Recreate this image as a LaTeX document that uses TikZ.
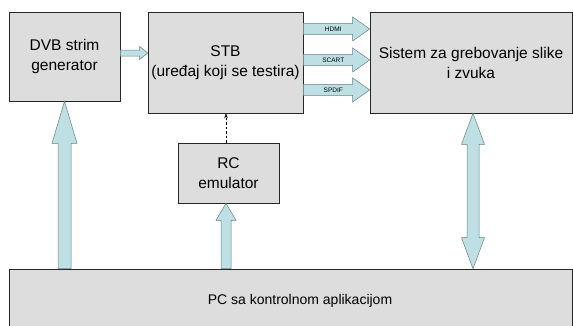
\documentclass[tikz,border=0pt]{standalone}
\usepackage{fontspec}
\setmainfont{Liberation Sans}
\usetikzlibrary{calc,arrows.meta}
\definecolor{sivo}{RGB}{221,221,221}
\definecolor{plavo}{RGB}{190,224,228}
\definecolor{ivica}{RGB}{100,128,132}
\tikzset{
  blok/.style={draw=black!85,line width=.6pt,fill=sivo,align=center,inner sep=0pt,
    font=\fontsize{15.5}{20}\selectfont},
  % debela strelica: pola tijela, pola glave, duzina glave
  strelica/.style n args={3}{draw=ivica,fill=plavo,line width=.5pt,
    to path={let \p1=(\tikztostart),\p2=(\tikztotarget),\p3=($(\p2)!#3!(\p1)$) in
      ($(\p1)!#1!90:(\p2)$) -- ($(\p3)!#1!90:(\p2)$) -- ($(\p3)!#2!90:(\p2)$) -- (\p2)
      -- ($(\p3)!#2!-90:(\p2)$) -- ($(\p3)!#1!-90:(\p2)$) -- ($(\p1)!#1!-90:(\p2)$) -- cycle}},
  dvostruka/.style n args={3}{draw=ivica,fill=plavo,line width=.5pt,
    to path={let \p1=(\tikztostart),\p2=(\tikztotarget),\p3=($(\p1)!#3!(\p2)$),\p4=($(\p2)!#3!(\p1)$) in
      (\p1) -- ($(\p3)!#2!90:(\p2)$) -- ($(\p3)!#1!90:(\p2)$) -- ($(\p4)!#1!-90:(\p1)$)
      -- ($(\p4)!#2!-90:(\p1)$) -- (\p2) -- ($(\p4)!#2!90:(\p1)$) -- ($(\p4)!#1!90:(\p1)$)
      -- ($(\p3)!#1!-90:(\p2)$) -- ($(\p3)!#2!-90:(\p2)$) -- cycle}},
  oznaka/.style={font=\fontsize{6.5}{7}\selectfont,inner sep=0pt}
}
\begin{document}
\begin{tikzpicture}[x=1pt,y=-1pt,>={Stealth[length=5pt,width=3.5pt]}]
    \path[use as bounding box,fill=white] (0,0) rectangle (573,325);
    % Blokovi
    \node[blok,minimum width=111pt,minimum height=89pt] (dvb) at (64.5,56.5) {DVB strim\\generator};
    \node[blok,minimum width=155pt,minimum height=101pt] (stb) at (225.5,62.5) {STB\\(uređaj koji se testira)};
    \node[blok,minimum width=202pt,minimum height=101pt] (sis) at (471,62.5) {Sistem za grebovanje slike\\i zvuka};
    \node[blok,minimum width=101pt,minimum height=60pt] (rc) at (228.5,173) {RC\\emulator};
    \node[blok,minimum width=563pt,minimum height=64pt,font=\fontsize{14}{17}\selectfont] (pc) at (290.5,301) {\hspace*{19pt}PC sa kontrolnom aplikacijom};
    % Strelice
    \draw[strelica={3pt}{6.5pt}{8pt}] ([yshift=3.5pt]dvb.east) to ([yshift=3.5pt]dvb.east -| stb.west);
    \draw[strelica={6.5pt}{12.5pt}{42pt}] (dvb.south |- pc.north) to (dvb.south);
    \draw[strelica={5pt}{10pt}{17pt}] ([xshift=-2.5pt]rc.south |- pc.north) to ([xshift=-2.5pt]rc.south);
    \draw[dvostruka={6pt}{11.5pt}{31pt}] ([xshift=2pt]sis.south) to ([xshift=2pt]sis.south |- pc.north);
    \draw[->,dash pattern=on 2.5pt off 2pt,line width=.4pt] ([xshift=-2.5pt]rc.north) -- ([xshift=-2.5pt]rc.north |- stb.south);
    % Izlazi STB
    \foreach \ime/\f in {HDMI/.17,SCART/.475,SPDIF/.77}{
      \coordinate (iz-\ime) at ($(stb.north east)!\f!(stb.south east)$);
      \draw[strelica={5.5pt}{12pt}{17pt}] (iz-\ime) to (iz-\ime -| sis.west);
      \node[oznaka] (n-\ime) at ($(iz-\ime)+(30,0)$) {\ime};
    }
\end{tikzpicture}
\end{document}
